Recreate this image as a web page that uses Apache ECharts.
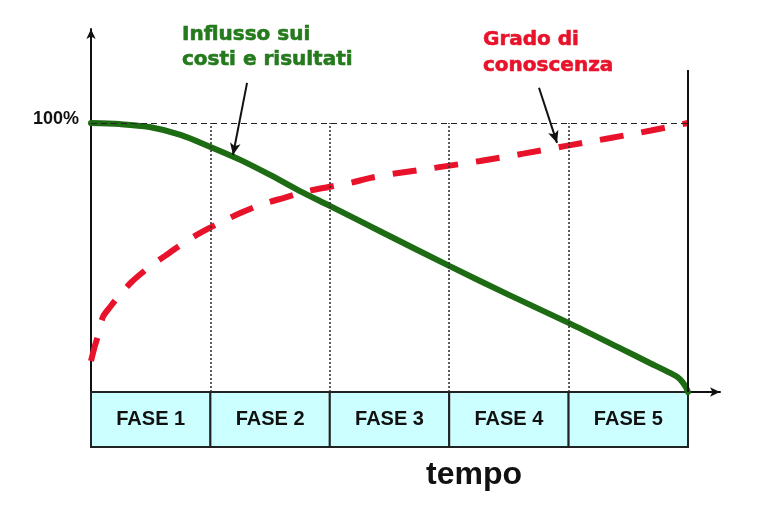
<!DOCTYPE html>
<html>
<head>
<meta charset="utf-8">
<script src="https://cdn.jsdelivr.net/npm/echarts@6/dist/echarts.min.js"></script>
<style>html,body{margin:0;padding:0;background:#fff}#c{width:766px;height:511px}</style>
</head>
<body>
<div id="c"></div>
<script>
// Phases (x axis, one unit per phase)
const phases = ['FASE 1', 'FASE 2', 'FASE 3', 'FASE 4', 'FASE 5'];
// "Influsso sui costi e risultati" (green curve), % vs time in phases
const influssoX = [0, 0.24, 0.49, 0.75, 1.0, 1.25, 1.5, 1.75, 2.0, 2.45, 3.0, 3.5, 4.0, 4.43, 4.68, 4.85, 4.91, 4.95, 4.98, 5.0];
const influssoY = [100, 99.6, 98.5, 95.6, 91.1, 86.3, 80.7, 74.7, 69.2, 59.1, 46.9, 36.1, 25.7, 16.3, 10.8, 7.1, 5.6, 3.9, 1.9, 0];
// "Grado di conoscenza" (red dashed curve)
const conoscenzaX = [0, 0.03, 0.06, 0.10, 0.16, 0.23, 0.34, 0.49, 0.62, 0.79, 0.93, 1.11, 1.27, 1.44, 1.61, 1.79, 1.99, 2.17, 2.34, 2.53, 2.89, 3.26, 3.62, 3.98, 4.35, 4.69, 5.0];
const conoscenzaY = [11.5, 16.7, 21.2, 27.9, 31.6, 35.5, 40.9, 46.5, 50.6, 55.8, 59.5, 63.6, 66.9, 69.9, 72.1, 74.4, 76.2, 77.7, 79.6, 81.1, 83.4, 85.9, 88.6, 91.5, 94.4, 97.2, 100];
// Reference level
const fullLevel = 100;
const labelFull = '100%';
const labelTime = 'tempo';
const labelInflusso = ['Influsso sui', 'costi e risultati'];
const labelConoscenza = ['Grado di', 'conoscenza'];

const zip = (xs, ys) => xs.map((x, i) => [x, ys[i]]);
const nPh = phases.length;
const yMin = -20.45, yMax = 134.94;

const guideLines = [];
for (let i = 1; i < nPh; i++) {
  guideLines.push([{ coord: [i, 0] }, { coord: [i, fullLevel], lineStyle: { type: [2, 2], width: 1.6, color: '#333' } }]);
}
guideLines.push([{ coord: [0, fullLevel] }, { coord: [nPh, fullLevel], lineStyle: { type: [6, 4], width: 1, color: '#222' } }]);
guideLines.push([{ coord: [nPh, 0] }, { coord: [nPh, 119.7], lineStyle: { type: 'solid', width: 2, color: '#111' } }]);

const areas = phases.map((p, i) => [
  { name: p, coord: [i, yMin] },
  { coord: [i + 1, 0] }
]);

const arrows = [
  [{ coord: [1.307, 114.9] }, { coord: [1.189, 88.1] }],
  [{ coord: [3.752, 113.1] }, { coord: [3.903, 92.6] }]
];

const chart = echarts.init(document.getElementById('c'));
chart.setOption({
  animation: false,
  backgroundColor: '#fff',
  grid: { left: 91, right: 46, top: 29, bottom: 64 },
  xAxis: {
    type: 'value', min: 0, max: 5.268,
    axisLine: { show: true, onZero: true, symbol: ['none', 'arrow'], symbolSize: [7, 10], lineStyle: { color: '#111', width: 2 } },
    axisTick: { show: false }, axisLabel: { show: false }, splitLine: { show: false }
  },
  yAxis: {
    type: 'value', min: yMin, max: yMax,
    axisLine: { show: true, symbol: ['none', 'arrow'], symbolSize: [7, 10], lineStyle: { color: '#111', width: 2 } },
    axisTick: { show: false }, axisLabel: { show: false }, splitLine: { show: false }
  },
  series: [
    {
      name: 'guides', type: 'line', data: [], silent: true,
      markArea: {
        silent: true,
        itemStyle: { color: '#ccffff', borderColor: '#222', borderWidth: 2 },
        label: { show: true, position: 'inside', fontFamily: 'Liberation Sans', fontWeight: 'bold', fontSize: 20, color: '#111' },
        data: areas
      },
      markLine: {
        silent: true, symbol: ['none', 'none'], label: { show: false },
        lineStyle: { color: '#222' },
        data: guideLines
      }
    },
    {
      name: 'Influsso', type: 'line', data: zip(influssoX, influssoY),
      showSymbol: false, smooth: 0.3,
      lineStyle: { color: '#1d6b12', width: 6, cap: 'round' }, z: 3,
      markLine: {
        silent: true, symbol: ['none', 'arrow'], symbolSize: [8, 12], label: { show: false },
        lineStyle: { color: '#111', width: 2, type: 'solid' },
        data: arrows
      }
    },
    {
      name: 'Conoscenza', type: 'line', data: zip(conoscenzaX, conoscenzaY),
      showSymbol: false, smooth: 0.3,
      lineStyle: { color: '#e8132b', width: 6, type: [24, 18], cap: 'butt' }, z: 4
    }
  ],
  graphic: [
    { type: 'text', x: 79, y: 119, style: { text: labelFull, align: 'right', verticalAlign: 'middle', font: 'bold 18px "Liberation Sans"', fill: '#111' } },
    { type: 'text', x: 474, y: 475, style: { text: labelTime, align: 'center', verticalAlign: 'middle', font: 'bold 32px "Liberation Sans"', fill: '#111' } },
    { type: 'text', x: 182, y: 35, style: { text: labelInflusso[0], align: 'left', verticalAlign: 'middle', font: 'bold 20px "DejaVu Sans"', fill: '#247a1c', stroke: '#247a1c', lineWidth: 0.6 } },
    { type: 'text', x: 182, y: 60, style: { text: labelInflusso[1], align: 'left', verticalAlign: 'middle', font: 'bold 20px "DejaVu Sans"', fill: '#247a1c', stroke: '#247a1c', lineWidth: 0.6 } },
    { type: 'text', x: 483, y: 40, style: { text: labelConoscenza[0], align: 'left', verticalAlign: 'middle', font: 'bold 20px "DejaVu Sans"', fill: '#e8132b', stroke: '#e8132b', lineWidth: 0.6 } },
    { type: 'text', x: 483, y: 66, style: { text: labelConoscenza[1], align: 'left', verticalAlign: 'middle', font: 'bold 20px "DejaVu Sans"', fill: '#e8132b', stroke: '#e8132b', lineWidth: 0.6 } }
  ]
});
</script>
</body>
</html>
